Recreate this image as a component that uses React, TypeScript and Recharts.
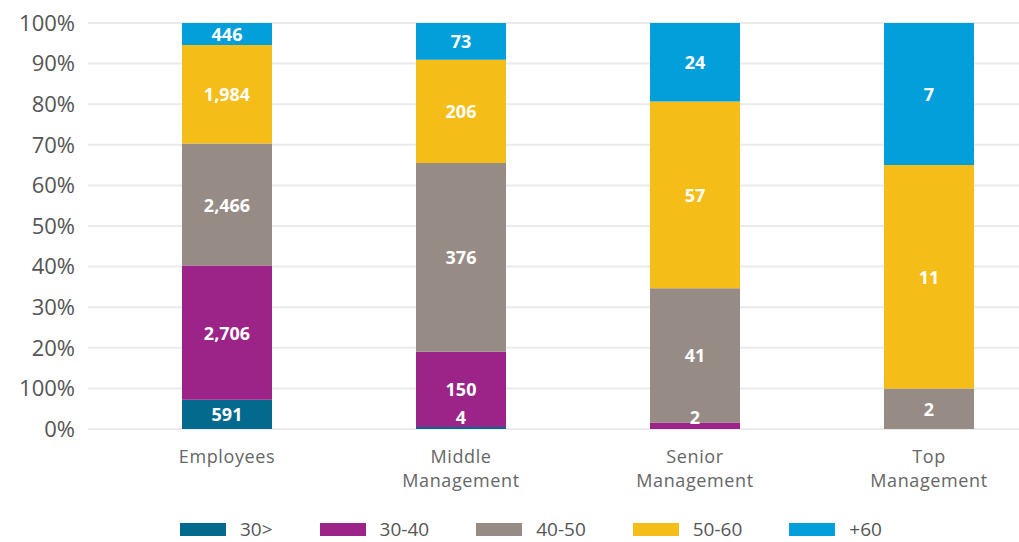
import React from "react";
import {
  Bar,
  BarChart,
  CartesianGrid,
  LabelList,
  Legend,
  XAxis,
  YAxis,
} from "recharts";

const categories = [
  "Employees",
  "Middle Management",
  "Senior Management",
  "Top Management",
];

// headcount per age band, in category order
const under30 = [591, 4, 0, 0];
const age30to40 = [2706, 150, 2, 0];
const age40to50 = [2466, 376, 41, 2];
const age50to60 = [1984, 206, 57, 11];
const over60 = [446, 73, 24, 7];

const yTicks = [0, 0.1, 0.2, 0.3, 0.4, 0.5, 0.6, 0.7, 0.8, 0.9, 1];
// the source labels the 10% line "100%"
const yTickLabels = ["0%", "100%", "20%", "30%", "40%", "50%", "60%", "70%", "80%", "90%", "100%"];

const series = [
  { key: "u30", name: "30>", values: under30, color: "#046a8d" },
  { key: "a3040", name: "30-40", values: age30to40, color: "#9c2388" },
  { key: "a4050", name: "40-50", values: age40to50, color: "#968b85" },
  { key: "a5060", name: "50-60", values: age50to60, color: "#f5bd17" },
  { key: "o60", name: "+60", values: over60, color: "#039fdb" },
];

const data = categories.map((name, i) => {
  const row: Record<string, string | number | null> = { name };
  series.forEach((s) => {
    row[s.key] = s.values[i] || null;
  });
  return row;
});

const SegmentLabel = (props: any) => {
  const { x, y, width, height, value } = props;
  if (!value) return null;
  const cy = height < 10 ? y + height - 12 : y + height / 2;
  return (
    <text
      x={x + width / 2}
      y={cy}
      fill="#fff"
      textAnchor="middle"
      dominantBaseline="central"
      fontSize={18}
      fontWeight={700}
    >
      {Number(value).toLocaleString("en-US")}
    </text>
  );
};

const CategoryTick = (props: any) => {
  const { x, y, payload } = props;
  const lines = String(payload.value).split(" ");
  return (
    <text
      x={x}
      y={y + 34}
      textAnchor="middle"
      fill="#666"
      fontSize={18}
      letterSpacing={0.6}
    >
      {lines.map((line, i) => (
        <tspan key={line} x={x} dy={i === 0 ? 0 : 24}>
          {line}
        </tspan>
      ))}
    </text>
  );
};

const LegendRow = () => (
  <div
    style={{
      display: "flex",
      alignItems: "center",
      height: 26,
      whiteSpace: "nowrap",
    }}
  >
    {series.map((s) => (
      <div
        key={s.key}
        style={{
          display: "flex",
          alignItems: "center",
          marginRight: 47,
          flexShrink: 0,
        }}
      >
        <span
          style={{
            display: "inline-block",
            width: 46,
            height: 13,
            background: s.color,
            marginRight: 14,
          }}
        />
        <span style={{ fontSize: 19, color: "#555", lineHeight: "26px" }}>
          {s.name}
        </span>
      </div>
    ))}
  </div>
);

export default function App() {
  return (
    <div
      style={{
        position: "absolute",
        left: 0,
        top: 0,
        width: 1019,
        height: 542,
        overflow: "hidden",
        background: "#fff",
        fontFamily: "'Open Sans', sans-serif",
      }}
    >
      <BarChart
        width={1046}
        height={542}
        data={data}
        stackOffset="expand"
        margin={{ top: 23, right: 0, left: 0, bottom: 0 }}
      >
        <CartesianGrid vertical={false} stroke="#ebebeb" strokeWidth={2} />
        <XAxis
          dataKey="name"
          axisLine={false}
          tickLine={false}
          tickSize={0}
          tickMargin={0}
          height={87}
          padding={{ left: 22, right: 0 }}
          interval={0}
          tick={<CategoryTick />}
        />
        <YAxis
          width={88}
          ticks={yTicks}
          domain={[0, 1]}
          axisLine={false}
          tickLine={false}
          tickSize={0}
          tickMargin={13}
          interval={0}
          tick={{ fill: "#555", fontSize: 22 }}
          tickFormatter={(v: number) => yTickLabels[Math.round(v * 10)]}
        />
        <Legend
          verticalAlign="bottom"
          content={<LegendRow />}
          wrapperStyle={{ left: 180, width: 820 }}
        />
        {series.map((s) => (
          <Bar
            key={s.key}
            dataKey={s.key}
            name={s.name}
            stackId="age"
            fill={s.color}
            barSize={90}
            isAnimationActive={false}
          >
            <LabelList dataKey={s.key} content={<SegmentLabel />} />
          </Bar>
        ))}
      </BarChart>
    </div>
  );
}
